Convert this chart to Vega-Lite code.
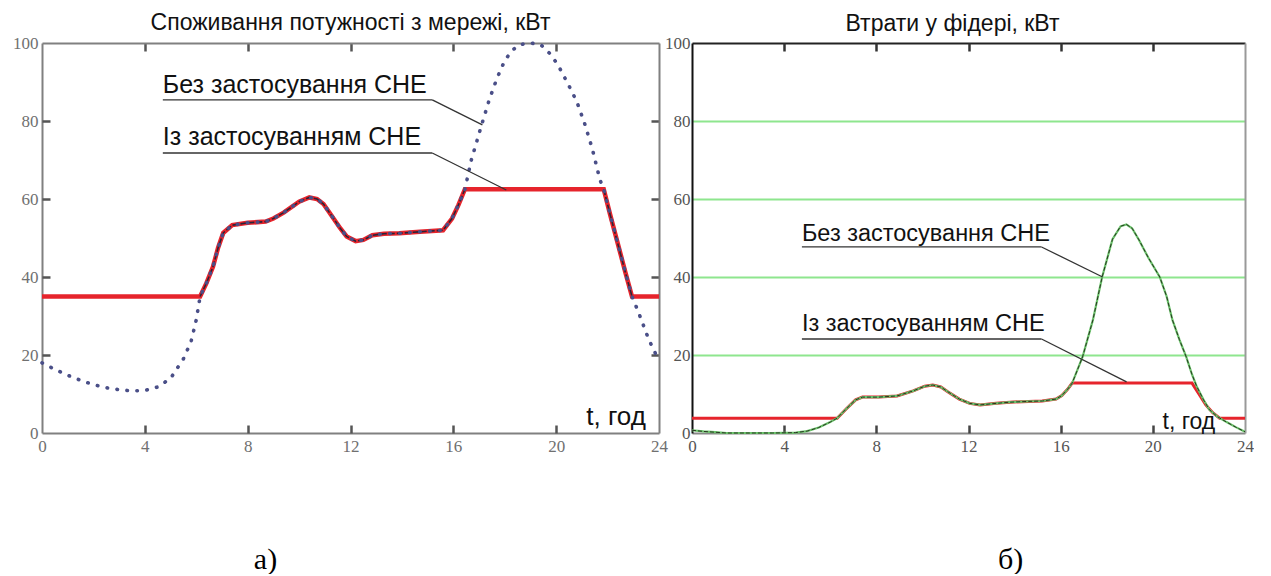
{
  "$schema": "https://vega.github.io/schema/vega-lite/v6.json",
  "background": "white",
  "padding": {"left": 12, "top": 12, "right": 0, "bottom": 0},
  "spacing": 33,
  "bounds": "flush",
  "config": {"view": {"stroke": null}, "font": "Liberation Sans"},
  "datasets": {
    "a_without": [
      {"t": 0, "p": 18}, {"t": 0.5, "p": 16.3}, {"t": 1, "p": 14.8}, {"t": 1.5, "p": 13.5}, {"t": 2, "p": 12.4},
      {"t": 2.5, "p": 11.6}, {"t": 3, "p": 11.1}, {"t": 3.5, "p": 10.8}, {"t": 4, "p": 10.9}, {"t": 4.5, "p": 11.8},
      {"t": 5, "p": 14}, {"t": 5.5, "p": 19}, {"t": 5.8, "p": 23.5}, {"t": 6, "p": 29}, {"t": 6.15, "p": 35},
      {"t": 6.4, "p": 38.5}, {"t": 6.65, "p": 42.6}, {"t": 6.85, "p": 47.5}, {"t": 7.05, "p": 51.3}, {"t": 7.4, "p": 53.3},
      {"t": 8, "p": 53.9}, {"t": 8.7, "p": 54.2}, {"t": 9, "p": 55}, {"t": 9.4, "p": 56.5}, {"t": 10, "p": 59.3},
      {"t": 10.4, "p": 60.4}, {"t": 10.7, "p": 60}, {"t": 10.95, "p": 58.7}, {"t": 11.3, "p": 55.4}, {"t": 11.6, "p": 52.5},
      {"t": 11.85, "p": 50.4}, {"t": 12.2, "p": 49.2}, {"t": 12.5, "p": 49.5}, {"t": 12.85, "p": 50.7}, {"t": 13.3, "p": 51.1},
      {"t": 13.9, "p": 51.2}, {"t": 14.7, "p": 51.6}, {"t": 15.6, "p": 52}, {"t": 15.95, "p": 55}, {"t": 16.2, "p": 58.5},
      {"t": 16.45, "p": 62.5}, {"t": 16.7, "p": 70}, {"t": 17.1, "p": 79}, {"t": 17.4, "p": 85.5}, {"t": 17.7, "p": 91},
      {"t": 18, "p": 95.5}, {"t": 18.3, "p": 98.2}, {"t": 18.6, "p": 99.6}, {"t": 19, "p": 100}, {"t": 19.4, "p": 99.6},
      {"t": 19.8, "p": 97}, {"t": 20.1, "p": 94}, {"t": 20.5, "p": 89}, {"t": 20.8, "p": 85}, {"t": 21.1, "p": 79.5},
      {"t": 21.4, "p": 73}, {"t": 21.7, "p": 65}, {"t": 21.85, "p": 62.5}, {"t": 22.1, "p": 56}, {"t": 22.4, "p": 48.5},
      {"t": 22.7, "p": 41}, {"t": 22.95, "p": 35}, {"t": 23.2, "p": 31}, {"t": 23.6, "p": 24}, {"t": 24, "p": 18.5}
    ],
    "a_with": [
      {"t": 0, "p": 35}, {"t": 6.15, "p": 35},
      {"t": 6.4, "p": 38.5}, {"t": 6.65, "p": 42.6}, {"t": 6.85, "p": 47.5}, {"t": 7.05, "p": 51.3}, {"t": 7.4, "p": 53.3},
      {"t": 8, "p": 53.9}, {"t": 8.7, "p": 54.2}, {"t": 9, "p": 55}, {"t": 9.4, "p": 56.5}, {"t": 10, "p": 59.3},
      {"t": 10.4, "p": 60.4}, {"t": 10.7, "p": 60}, {"t": 10.95, "p": 58.7}, {"t": 11.3, "p": 55.4}, {"t": 11.6, "p": 52.5},
      {"t": 11.85, "p": 50.4}, {"t": 12.2, "p": 49.2}, {"t": 12.5, "p": 49.5}, {"t": 12.85, "p": 50.7}, {"t": 13.3, "p": 51.1},
      {"t": 13.9, "p": 51.2}, {"t": 14.7, "p": 51.6}, {"t": 15.6, "p": 52}, {"t": 15.95, "p": 55}, {"t": 16.2, "p": 58.5},
      {"t": 16.45, "p": 62.5}, {"t": 21.85, "p": 62.5}, {"t": 22.1, "p": 56}, {"t": 22.4, "p": 48.5},
      {"t": 22.7, "p": 41}, {"t": 22.95, "p": 35}, {"t": 24, "p": 35}
    ],
    "b_without": [
      {"t": 0, "p": 0.7}, {"t": 0.5, "p": 0.4}, {"t": 1, "p": 0.2}, {"t": 1.5, "p": 0}, {"t": 2.5, "p": 0},
      {"t": 3.5, "p": 0}, {"t": 4.5, "p": 0.1}, {"t": 5, "p": 0.5}, {"t": 5.5, "p": 1.4}, {"t": 6, "p": 2.8},
      {"t": 6.3, "p": 3.8}, {"t": 6.7, "p": 6.2}, {"t": 7.1, "p": 8.5}, {"t": 7.4, "p": 9.2}, {"t": 8.1, "p": 9.2},
      {"t": 8.9, "p": 9.5}, {"t": 9.6, "p": 10.8}, {"t": 10.1, "p": 12}, {"t": 10.45, "p": 12.3}, {"t": 10.8, "p": 11.8},
      {"t": 11.1, "p": 10.6}, {"t": 11.6, "p": 8.7}, {"t": 12.05, "p": 7.6}, {"t": 12.5, "p": 7.2}, {"t": 13.2, "p": 7.6},
      {"t": 13.8, "p": 7.9}, {"t": 14.6, "p": 8.1}, {"t": 15.2, "p": 8.2}, {"t": 15.8, "p": 8.7}, {"t": 16.05, "p": 9.6},
      {"t": 16.3, "p": 11.2}, {"t": 16.5, "p": 12.8}, {"t": 16.95, "p": 19.5}, {"t": 17.4, "p": 29}, {"t": 17.8, "p": 40},
      {"t": 18.25, "p": 49.7}, {"t": 18.6, "p": 53}, {"t": 18.85, "p": 53.5}, {"t": 19.1, "p": 52.5}, {"t": 19.4, "p": 49.5},
      {"t": 19.8, "p": 45}, {"t": 20.3, "p": 40}, {"t": 20.6, "p": 35}, {"t": 20.85, "p": 29}, {"t": 21.15, "p": 24},
      {"t": 21.45, "p": 19.5}, {"t": 21.7, "p": 15}, {"t": 21.9, "p": 12}, {"t": 22.2, "p": 8.5}, {"t": 22.45, "p": 6},
      {"t": 22.8, "p": 4.2}, {"t": 23.2, "p": 2.8}, {"t": 23.6, "p": 1.5}, {"t": 24, "p": 0.3}
    ],
    "b_with": [
      {"t": 0, "p": 3.8}, {"t": 6.3, "p": 3.8}, {"t": 6.7, "p": 6.2}, {"t": 7.1, "p": 8.5}, {"t": 7.4, "p": 9.2}, {"t": 8.1, "p": 9.2},
      {"t": 8.9, "p": 9.5}, {"t": 9.6, "p": 10.8}, {"t": 10.1, "p": 12}, {"t": 10.45, "p": 12.3}, {"t": 10.8, "p": 11.8},
      {"t": 11.1, "p": 10.6}, {"t": 11.6, "p": 8.7}, {"t": 12.05, "p": 7.6}, {"t": 12.5, "p": 7.2}, {"t": 13.2, "p": 7.6},
      {"t": 13.8, "p": 7.9}, {"t": 14.6, "p": 8.1}, {"t": 15.2, "p": 8.2}, {"t": 15.8, "p": 8.7}, {"t": 16.05, "p": 9.6},
      {"t": 16.3, "p": 11.2}, {"t": 16.5, "p": 12.8}, {"t": 21.7, "p": 12.8}, {"t": 22, "p": 10}, {"t": 22.3, "p": 7.2},
      {"t": 22.6, "p": 5.2}, {"t": 22.9, "p": 3.8}, {"t": 24, "p": 3.8}
    ]
  },
  "hconcat": [
    {
      "width": 617,
      "height": 390,
      "title": {"text": "Споживання потужності з мережі, кВт", "font": "Liberation Sans", "fontSize": 23, "fontWeight": "normal", "color": "#111", "offset": -1},
      "resolve": {"axis": {"x": "independent", "y": "independent"}},
      "layer": [
        {
          "data": {"name": "a_with"},
          "mark": {"type": "line", "color": "#e6242c", "strokeWidth": 4.5},
          "encoding": {
            "x": {"field": "t", "type": "quantitative", "scale": {"domain": [0, 24], "nice": false, "zero": false},
              "axis": {"orient": "bottom", "values": [0, 4, 8, 12, 16, 20, 24], "ticks": false,
                "domainColor": "#808080", "domainWidth": 2, "labelPadding": 5, "labelFont": "Liberation Serif", "labelFontSize": 17,
                "labelColor": "#707070", "labelFlush": false, "grid": false,
                "title": "а)", "titleFont": "Liberation Serif", "titleFontSize": 30, "titleFontWeight": "normal", "titleColor": "#000",
                "titleX": 223, "titleY": 135, "titleBaseline": "alphabetic", "titleAlign": "center"}},
            "y": {"field": "p", "type": "quantitative", "scale": {"domain": [0, 100], "nice": false},
              "axis": {"orient": "left", "values": [0, 20, 40, 60, 80, 100], "ticks": false,
                "domainColor": "#808080", "domainWidth": 2, "labelPadding": 4, "labelFont": "Liberation Serif", "labelFontSize": 17,
                "labelColor": "#707070", "labelFlush": false, "grid": false, "title": null}}
          }
        },
        {
          "data": {"name": "a_with"},
          "transform": [{"filter": "datum.t >= 6.15 && datum.t <= 16.45"}],
          "mark": {"type": "line", "color": "#2b2438", "strokeWidth": 1.6, "strokeDash": [6, 2]},
          "encoding": {
            "x": {"field": "t", "type": "quantitative",
              "axis": {"orient": "bottom", "offset": -8, "values": [4, 8, 12, 16, 20], "ticks": true, "tickSize": 8, "tickWidth": 2.5,
                "tickColor": "#555555", "domain": false, "labels": false, "grid": false, "title": null}},
            "y": {"field": "p", "type": "quantitative",
              "axis": {"orient": "left", "offset": -8, "values": [20, 40, 60, 80], "ticks": true, "tickSize": 8, "tickWidth": 2.5,
                "tickColor": "#555555", "domain": false, "labels": false, "grid": false, "title": null}}
          }
        },
        {
          "data": {"name": "a_with"},
          "transform": [{"filter": "datum.t >= 21.85 && datum.t <= 22.95"}],
          "mark": {"type": "line", "color": "#2b2438", "strokeWidth": 1.6, "strokeDash": [6, 2]},
          "encoding": {
            "x": {"field": "t", "type": "quantitative",
              "axis": {"orient": "top", "offset": -8, "values": [4, 8, 12, 16, 20], "ticks": true, "tickSize": 8, "tickWidth": 2.5,
                "tickColor": "#555555", "domain": false, "labels": false, "grid": false, "title": null}},
            "y": {"field": "p", "type": "quantitative",
              "axis": {"orient": "right", "offset": -8, "values": [20, 40, 60, 80], "ticks": true, "tickSize": 8, "tickWidth": 2.5,
                "tickColor": "#555555", "domain": false, "labels": false, "grid": false, "title": null}}
          }
        },
        {
          "data": {"name": "a_without"},
          "mark": {"type": "line", "color": "#4a4f88", "strokeWidth": 3.6, "strokeDash": [0.5, 9.5], "strokeCap": "round"},
          "encoding": {
            "x": {"field": "t", "type": "quantitative",
              "axis": {"orient": "top", "ticks": false, "domainColor": "#808080", "domainWidth": 2, "labels": false, "grid": false, "title": null}},
            "y": {"field": "p", "type": "quantitative",
              "axis": {"orient": "right", "ticks": false, "domainColor": "#808080", "domainWidth": 2, "labels": false, "grid": false, "title": null}}
          }
        },
        {
          "data": {"values": [{}]},
          "mark": {"type": "text", "text": "Без застосування СНЕ", "align": "left", "baseline": "alphabetic", "font": "Liberation Sans", "fontSize": 25, "color": "#111"},
          "encoding": {"x": {"datum": 4.7, "axis": null}, "y": {"datum": 87.2, "axis": null}}
        },
        {
          "data": {"values": [{}]},
          "mark": {"type": "text", "text": "Із застосуванням СНЕ", "align": "left", "baseline": "alphabetic", "font": "Liberation Sans", "fontSize": 25, "color": "#111"},
          "encoding": {"x": {"datum": 4.7, "axis": null}, "y": {"datum": 73.8, "axis": null}}
        },
        {
          "data": {"values": [{}]},
          "mark": {"type": "text", "text": "t, год", "align": "left", "baseline": "alphabetic", "font": "Liberation Sans", "fontSize": 26, "color": "#111"},
          "encoding": {"x": {"datum": 21.17, "axis": null}, "y": {"datum": 2, "axis": null}}
        },
        {
          "data": {"values": [{}]},
          "mark": {"type": "rule", "color": "#333", "strokeWidth": 1.3},
          "encoding": {"x": {"datum": 4.7, "axis": null}, "x2": {"datum": 15.18}, "y": {"datum": 85.4, "axis": null}}
        },
        {
          "data": {"values": [{}]},
          "mark": {"type": "rule", "color": "#333", "strokeWidth": 1.3},
          "encoding": {"x": {"datum": 15.18, "axis": null}, "x2": {"datum": 17.13}, "y": {"datum": 85.4, "axis": null}, "y2": {"datum": 79}}
        },
        {
          "data": {"values": [{}]},
          "mark": {"type": "rule", "color": "#333", "strokeWidth": 1.3},
          "encoding": {"x": {"datum": 4.7, "axis": null}, "x2": {"datum": 15.18}, "y": {"datum": 71.8, "axis": null}}
        },
        {
          "data": {"values": [{}]},
          "mark": {"type": "rule", "color": "#333", "strokeWidth": 1.3},
          "encoding": {"x": {"datum": 15.18, "axis": null}, "x2": {"datum": 18.06}, "y": {"datum": 71.8, "axis": null}, "y2": {"datum": 62.3}}
        }
      ]
    },
    {
      "width": 553,
      "height": 390,
      "title": {"text": "Втрати у фідері, кВт", "font": "Liberation Sans", "fontSize": 23, "fontWeight": "normal", "color": "#111", "offset": -2, "dx": -16},
      "resolve": {"axis": {"x": "independent", "y": "independent"}},
      "layer": [
        {
          "data": {"name": "b_with"},
          "mark": {"type": "line", "color": "#e6242c", "strokeWidth": 3},
          "encoding": {
            "x": {"field": "t", "type": "quantitative", "scale": {"domain": [0, 24], "nice": false, "zero": false},
              "axis": {"orient": "bottom", "values": [0, 4, 8, 12, 16, 20, 24], "ticks": false,
                "domainColor": "#888", "domainWidth": 2, "labelPadding": 5, "labelFont": "Liberation Serif", "labelFontSize": 17,
                "labelColor": "#555", "labelFlush": false, "grid": false,
                "title": "б)", "titleFont": "Liberation Serif", "titleFontSize": 30, "titleFontWeight": "normal", "titleColor": "#000",
                "titleX": 318, "titleY": 135, "titleBaseline": "alphabetic", "titleAlign": "center"}},
            "y": {"field": "p", "type": "quantitative", "scale": {"domain": [0, 100], "nice": false},
              "axis": {"orient": "left", "values": [0, 20, 40, 60, 80, 100], "ticks": false, "domainColor": "#111", "domainWidth": 2,
                "labelPadding": 2, "labelFont": "Liberation Serif", "labelFontSize": 17, "labelColor": "#555", "labelFlush": false,
                "grid": false, "title": null}}
          }
        },
        {
          "data": {"name": "b_without"},
          "mark": {"type": "line", "color": "#6cc46c", "strokeWidth": 2.2},
          "encoding": {
            "x": {"field": "t", "type": "quantitative",
              "axis": {"orient": "top", "ticks": false, "domainColor": "#222", "domainWidth": 2, "labels": false, "grid": false, "title": null}},
            "y": {"field": "p", "type": "quantitative",
              "axis": {"orient": "right", "values": [20, 40, 60, 80], "ticks": false, "labels": false, "domainColor": "#999", "domainWidth": 2,
                "grid": true, "gridColor": "#8ee68e", "gridWidth": 2, "gridOpacity": 1, "title": null}}
          }
        },
        {
          "data": {"name": "b_without"},
          "mark": {"type": "line", "color": "#27351f", "strokeWidth": 1, "strokeDash": [4, 2]},
          "encoding": {
            "x": {"field": "t", "type": "quantitative",
              "axis": {"orient": "bottom", "offset": -8, "values": [4, 8, 12, 16, 20], "ticks": true, "tickSize": 8, "tickWidth": 2.5,
                "tickColor": "#444", "domain": false, "labels": false, "grid": false, "title": null}},
            "y": {"field": "p", "type": "quantitative", "axis": null}
          }
        },
        {
          "data": {"values": [{}]},
          "mark": {"type": "text", "text": "t, год", "align": "left", "baseline": "alphabetic", "font": "Liberation Sans", "fontSize": 23, "color": "#111"},
          "encoding": {
            "x": {"datum": 20.42,
              "axis": {"orient": "top", "offset": -8, "values": [4, 8, 12, 16, 20], "ticks": true, "tickSize": 8, "tickWidth": 2.5,
                "tickColor": "#333", "domain": false, "labels": false, "grid": false, "title": null}},
            "y": {"datum": 1, "axis": null}
          }
        },
        {
          "data": {"values": [{}]},
          "mark": {"type": "text", "text": "Без застосування СНЕ", "align": "left", "baseline": "alphabetic", "font": "Liberation Sans", "fontSize": 23.5, "color": "#111"},
          "encoding": {"x": {"datum": 4.77, "axis": null}, "y": {"datum": 49.2, "axis": null}}
        },
        {
          "data": {"values": [{}]},
          "mark": {"type": "text", "text": "Із застосуванням СНЕ", "align": "left", "baseline": "alphabetic", "font": "Liberation Sans", "fontSize": 23.5, "color": "#111"},
          "encoding": {"x": {"datum": 4.77, "axis": null}, "y": {"datum": 26.2, "axis": null}}
        },
        {
          "data": {"values": [{}]},
          "mark": {"type": "rule", "color": "#333", "strokeWidth": 1.3},
          "encoding": {"x": {"datum": 4.77, "axis": null}, "x2": {"datum": 15.17}, "y": {"datum": 47.7, "axis": null}}
        },
        {
          "data": {"values": [{}]},
          "mark": {"type": "rule", "color": "#333", "strokeWidth": 1.3},
          "encoding": {"x": {"datum": 15.17, "axis": null}, "x2": {"datum": 17.82}, "y": {"datum": 47.7, "axis": null}, "y2": {"datum": 40}}
        },
        {
          "data": {"values": [{}]},
          "mark": {"type": "rule", "color": "#333", "strokeWidth": 1.3},
          "encoding": {"x": {"datum": 4.77, "axis": null}, "x2": {"datum": 15.17}, "y": {"datum": 24.1, "axis": null}}
        },
        {
          "data": {"values": [{}]},
          "mark": {"type": "rule", "color": "#333", "strokeWidth": 1.3},
          "encoding": {"x": {"datum": 15.17, "axis": null}, "x2": {"datum": 18.86}, "y": {"datum": 24.1, "axis": null}, "y2": {"datum": 13.1}}
        }
      ]
    }
  ]
}
